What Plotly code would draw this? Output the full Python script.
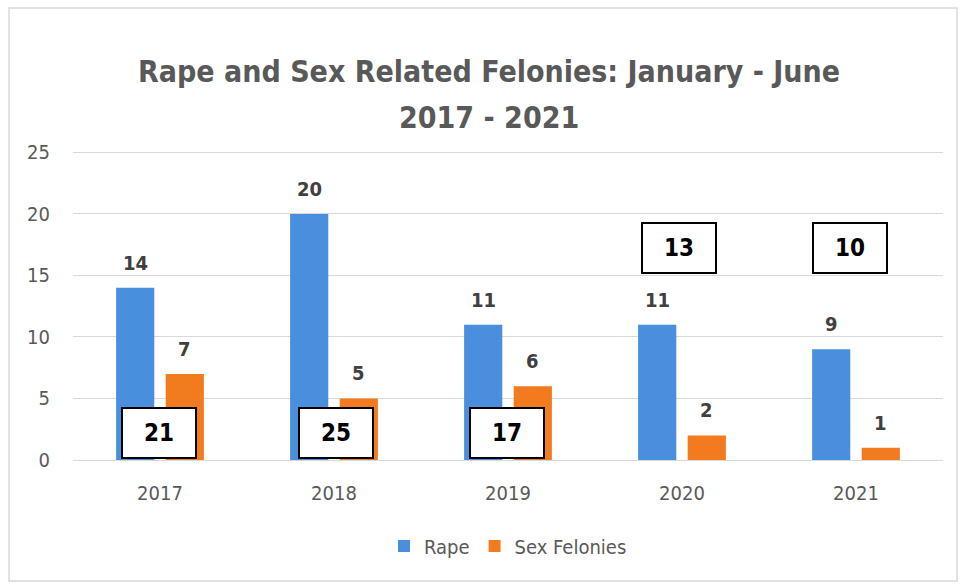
import plotly.graph_objects as go

# Reported counts, January - June of each year
years = ["2017", "2018", "2019", "2020", "2021"]
rape = [14, 20, 11, 11, 9]
sex_felonies = [7, 5, 6, 2, 1]
y_ticks = [0, 5, 10, 15, 20, 25]

totals = [r + s for r, s in zip(rape, sex_felonies)]
xpos = list(range(len(years)))

BLUE = "#4A8FDD"
ORANGE = "#F27B1F"
GRID = "#D9D9D9"
TXT = "#595959"
FONT = "DejaVu Sans Condensed, Arial Narrow, sans-serif"

fig = go.Figure()
fig.add_trace(go.Bar(name="Rape", x=xpos, y=rape, marker_color=BLUE,
                     marker_line_width=0))
fig.add_trace(go.Bar(name="Sex Felonies", x=xpos, y=sex_felonies,
                     marker_color=ORANGE, marker_line_width=0))

annotations = []

# value labels sitting above each bar
slot_px = 24.75
for i in xpos:
    for vals, sh in ((rape, -slot_px), (sex_felonies, slot_px)):
        annotations.append(dict(
            x=i, y=vals[i], xref="x", yref="y", text="<b>%d</b>" % vals[i],
            showarrow=False, xshift=sh, yshift=25, yanchor="middle",
            font=dict(family=FONT, size=20, color="#404040")))

# boxed yearly totals
box_y = [2.2, 2.2, 2.2, 17.2, 17.2]
box_dx = [-1, 2, -1, -3, -6]
for i in xpos:
    annotations.append(dict(
        x=i, y=box_y[i], xref="x", yref="y", text="<b>%d</b>" % totals[i],
        showarrow=False, xshift=box_dx[i], width=72, height=48, borderpad=0,
        bordercolor="#000000", borderwidth=2, bgcolor="#FFFFFF",
        font=dict(family=FONT, size=24, color="#000000")))

L, R, T, B = 73, 18, 150, 124
W, H = 961, 584
pw, ph = W - L - R, H - T - B

# two-line title, placed in paper coordinates
for txt, yp in (("Rape and Sex Related Felonies: January - June", 52),
                ("2017 - 2021", 98)):
    annotations.append(dict(
        x=(489 - L) / pw, y=(H - B - yp) / ph, xref="paper", yref="paper",
        text="<b>%s</b>" % txt, showarrow=False,
        font=dict(family=FONT, size=30, color=TXT)))

fig.update_layout(
    width=W, height=H,
    margin=dict(l=L, r=R, t=T, b=B, pad=0),
    paper_bgcolor="white", plot_bgcolor="white",
    barmode="group", bargap=0.43, bargroupgap=0.23,
    font=dict(family=FONT, color=TXT, size=20),
    showlegend=True,
    legend=dict(orientation="h", x=0.5, xanchor="center",
                y=(460 - 546) / ph, yanchor="middle",
                font=dict(family=FONT, size=20, color=TXT)),
    annotations=annotations,
    shapes=[dict(type="rect", xref="paper", yref="paper",
                 x0=(9 - L) / pw, x1=(957 - L) / pw,
                 y0=(H - B - 581) / ph, y1=(H - B - 8) / ph,
                 line=dict(color=GRID, width=1.5), layer="below")],
)
fig.update_xaxes(range=[-0.5, len(years) - 0.5], tickvals=xpos,
                 ticktext=years, showline=False, showgrid=False, ticks="",
                 zeroline=False, ticklabelstandoff=19,
                 tickfont=dict(family=FONT, size=20, color=TXT))
fig.update_yaxes(range=[0, 25.2], tickvals=y_ticks, showgrid=True,
                 gridcolor=GRID, gridwidth=1, zeroline=True,
                 zerolinecolor=GRID, zerolinewidth=1, showline=False,
                 ticks="", ticklabelstandoff=22,
                 tickfont=dict(family=FONT, size=20, color=TXT))

fig.write_html("out.html")
